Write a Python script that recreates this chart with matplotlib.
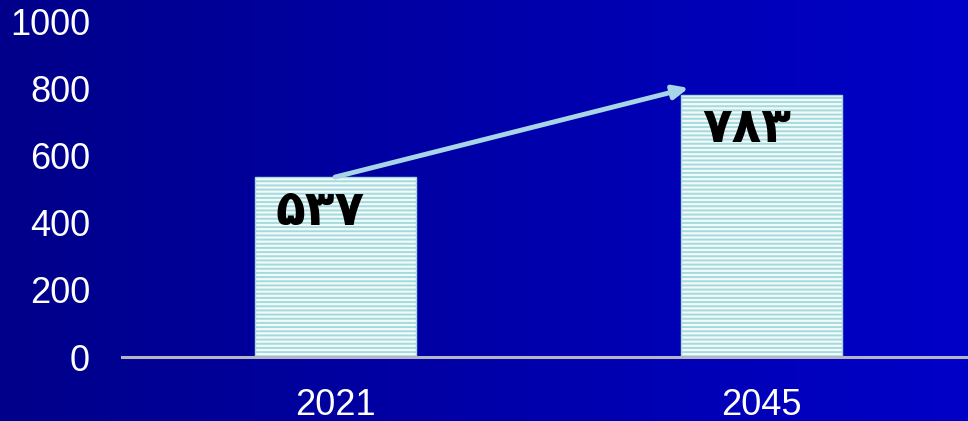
import numpy as np
import matplotlib.pyplot as plt
from matplotlib.colors import LinearSegmentedColormap

years = ['2021', '2045']
values = [537, 783]
labels = ['\u06f5\u06f3\u06f7', '\u06f7\u06f8\u06f3']

plt.rcParams['hatch.linewidth'] = 1.4

fig = plt.figure(figsize=(9.68, 4.21), dpi=100)

# gradient background
bg = fig.add_axes([0, 0, 1, 1], zorder=0)
cmap = LinearSegmentedColormap.from_list('bg', ['#00008a', '#0000c8'])
grad = np.linspace(0, 1, 256).reshape(1, -1)
bg.imshow(grad, aspect='auto', cmap=cmap, extent=[0, 1, 0, 1])
bg.axis('off')

ax = fig.add_axes([0.126, 0.152, 0.874, 0.796], zorder=1)
ax.patch.set_visible(False)
x = np.arange(len(years))
# hatch takes the edge colour, so the stripes are cyan
ax.bar(x, values, width=0.378, color='#f2fafa', edgecolor='#a4dadc',
       linewidth=1, hatch='----', zorder=2)

for xi, v, lab in zip(x, values, labels):
    ax.text(xi - 0.035, v - 100, lab, ha='center', va='center',
            fontsize=35, fontweight='bold', family='DejaVu Sans', color='black', zorder=3)

ax.annotate('', xy=(0.83, 803), xytext=(0.0, 537),
            arrowprops=dict(arrowstyle='-|>,head_length=0.9,head_width=0.4',
                            color='#a8d4e8', lw=3.5, shrinkA=0, shrinkB=0), zorder=4)

ax.set_xlim(-0.5, 1.485)
ax.set_ylim(0, 1000)
ax.set_yticks([0, 200, 400, 600, 800, 1000])
ax.set_xticks(x)
ax.set_xticklabels(years)
for s in ['top', 'right', 'left']:
    ax.spines[s].set_visible(False)
ax.spines['bottom'].set_color('#b4b4c4')
ax.spines['bottom'].set_linewidth(2.2)
ax.tick_params(axis='y', length=0, pad=23, labelsize=26, labelcolor='white')
ax.tick_params(axis='x', length=0, pad=22, labelsize=26, labelcolor='white')
for t in ax.get_xticklabels() + ax.get_yticklabels():
    t.set_family('Liberation Sans')

fig.savefig('out.png', dpi=100)
